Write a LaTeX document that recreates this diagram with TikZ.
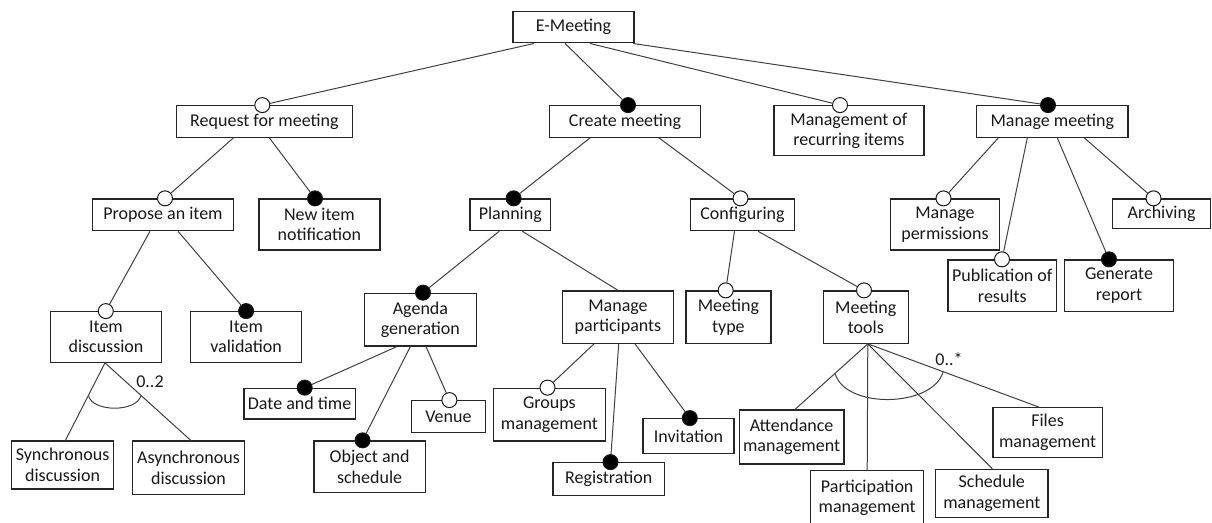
\documentclass[tikz,border=0pt]{standalone}
\usepackage{fontspec}
\setmainfont{Carlito}
\usetikzlibrary{calc}
\newcommand\diagfont{\fontsize{18}{20.5}\selectfont}
\tikzset{
  box/.style={draw=black!85, line width=1.2pt, fill=white, inner sep=0pt, align=center, font=\diagfont, text=black!90},
  optc/.style={circle, draw=black!90, line width=1pt, fill=white, minimum size=15pt, inner sep=0pt},
  mandc/.style={optc, fill=black},
  link/.style={draw=black!75, line width=1pt},
  lbl/.style={font=\diagfont, text=black!90, inner sep=0pt},
}
\begin{document}
\begin{tikzpicture}[x=1pt,y=-1pt]
\useasboundingbox (0,0) rectangle (1212,522);
\clip (0,0) rectangle (1212,522);
% boxes
\node[box,minimum width=121pt,minimum height=31.7pt] (em) at (573.5,27) {E-Meeting};
\node[box,minimum width=176pt,minimum height=31.6pt] (req) at (264.4,121.5) {Request for meeting};
\node[box,minimum width=151pt,minimum height=31.6pt] (cre) at (625,121.5) {Create meeting};
\node[box,minimum width=150pt,minimum height=50pt] (rec) at (848.9,130.7) {Management of\\recurring items};
\node[box,minimum width=151.4pt,minimum height=31.6pt] (mm) at (1052.3,121.5) {Manage meeting};
\node[box,minimum width=141pt,minimum height=31.7pt] (pro) at (163,214.8) {Propose an item};
\node[box,minimum width=121pt,minimum height=51pt] (nin) at (319.4,224.5) {New item\\notification};
\node[box,minimum width=80.6pt,minimum height=31.7pt] (pla) at (510.3,214.8) {Planning};
\node[box,minimum width=103.8pt,minimum height=31.7pt] (con) at (742.5,214.8) {Configuring};
\node[box,minimum width=108.5pt,minimum height=51pt] (mpe) at (945,224.5) {Manage\\permissions};
\node[box,minimum width=98.3pt,minimum height=29.3pt] (arch) at (1161.6,213.6) {Archiving};
\node[box,minimum width=108.7pt,minimum height=51.7pt] (pub) at (1002.3,285.8) {Publication of\\results};
\node[box,minimum width=109.3pt,minimum height=51.7pt] (gen) at (1119,285.8) {Generate\\report};
\node[box,minimum width=111pt,minimum height=50.6pt] (idi) at (106,337) {Item\\discussion};
\node[box,minimum width=111pt,minimum height=50.6pt] (iva) at (246.1,337) {Item\\validation};
\node[box,minimum width=111.7pt,minimum height=52.7pt] (age) at (420.4,319.6) {Agenda\\generation};
\node[box,minimum width=110.8pt,minimum height=52.3pt] (mpa) at (618,317.1) {Manage\\participants};
\node[box,minimum width=85pt,minimum height=52.3pt] (mty) at (728.4,317.1) {Meeting\\type};
\node[box,minimum width=85pt,minimum height=52.3pt] (mto) at (865.8,317.1) {Meeting\\tools};
\node[box,minimum width=102pt,minimum height=48pt] (syn) at (62.6,465) {Synchronous\\discussion};
\node[box,minimum width=111.7pt,minimum height=53.3pt] (asy) at (188.5,467.6) {Asynchronous\\discussion};
\node[box,minimum width=111.3pt,minimum height=30.7pt] (dat) at (299.6,403.6) {Date and time};
\node[box,minimum width=111.3pt,minimum height=51.7pt] (obj) at (369.6,466.8) {Object and\\schedule};
\node[box,minimum width=74.3pt,minimum height=32pt] (ven) at (448.4,416.7) {Venue};
\node[box,minimum width=112pt,minimum height=52.7pt] (grp) at (549.4,414.6) {Groups\\management};
\node[box,minimum width=111.4pt,minimum height=33pt] (reg) at (608.7,479.2) {Registration};
\node[box,minimum width=91pt,minimum height=34.6pt] (inv) at (688.4,436) {Invitation};
\node[box,minimum width=104.7pt,minimum height=54pt] (att) at (791.6,437) {Attendance\\management};
\node[box,minimum width=112.8pt,minimum height=54pt] (par) at (867.2,497.7) {Participation\\management};
\node[box,minimum width=112.3pt,minimum height=48.4pt] (sch) at (991.8,493.5) {Schedule\\management};
\node[box,minimum width=109.3pt,minimum height=49.6pt] (fil) at (1047.6,432.5) {Files\\management};
% circles
\node[optc]  (req-c) at ([xshift=-2.1pt]req.north) {};
\node[mandc] (cre-c) at ([xshift=3pt]cre.north) {};
\node[optc]  (rec-c) at ([xshift=-8.9pt]rec.north) {};
\node[mandc] (mm-c) at ([xshift=-4.3pt]mm.north) {};
\node[optc]  (pro-c) at ([xshift=2pt]pro.north) {};
\node[mandc] (nin-c) at ([xshift=-4.4pt]nin.north) {};
\node[mandc] (pla-c) at ([xshift=3.3pt]pla.north) {};
\node[optc]  (con-c) at ([xshift=-2pt]con.north) {};
\node[optc]  (mpe-c) at ([xshift=-1.5pt]mpe.north) {};
\node[optc]  (arch-c) at ([xshift=-8.1pt]arch.north) {};
\node[optc]  (pub-c) at ([xshift=-0.3pt]pub.north) {};
\node[mandc] (gen-c) at ([xshift=-10pt]gen.north) {};
\node[optc]  (idi-c) at ([xshift=-0.2pt]idi.north) {};
\node[mandc] (iva-c) at (iva.north) {};
\node[mandc] (age-c) at ([xshift=2.6pt]age.north) {};
\node[optc]  (mty-c) at ([xshift=-2.7pt]mty.north) {};
\node[optc]  (mto-c) at ([xshift=-1.8pt]mto.north) {};
\node[mandc] (dat-c) at ([xshift=5.1pt]dat.north) {};
\node[mandc] (obj-c) at ([xshift=-7pt]obj.north) {};
\node[optc]  (ven-c) at ([xshift=1pt]ven.north) {};
\node[optc]  (grp-c) at ([xshift=-1.9pt]grp.north) {};
\node[mandc] (reg-c) at ([xshift=1.8pt]reg.north) {};
\node[mandc] (inv-c) at ([xshift=1.4pt]inv.north) {};
% connectors
\draw[link] ([xshift=-39.5pt]em.south) -- (req-c);
\draw[link] ([xshift=-8.5pt]em.south) -- (cre-c);
\draw[link] ([xshift=16.5pt]em.south) -- (rec-c);
\draw[link] ([xshift=59.5pt]em.south) -- (mm-c);
\draw[link] ([xshift=-31pt]req.south) -- (pro-c);
\draw[link] ([xshift=5pt]req.south) -- (nin-c);
\draw[link] ([xshift=-35pt]cre.south) -- (pla-c);
\draw[link] ([xshift=34pt]cre.south) -- (con-c);
\draw[link] ([xshift=-54pt]mm.south) -- (mpe-c);
\draw[link] ([xshift=-25pt]mm.south) -- (pub-c);
\draw[link] ([xshift=5pt]mm.south) -- (gen-c);
\draw[link] ([xshift=32pt]mm.south) -- (arch-c);
\draw[link] ([xshift=-13pt]pro.south) -- (idi-c);
\draw[link] ([xshift=15pt]pro.south) -- (iva-c);
\draw[link] ([xshift=-11pt]pla.south) -- (age-c);
\draw[link] ([xshift=12pt]pla.south) -- (mpa.north);
\draw[link] ([xshift=-8pt]con.south) -- (mty-c);
\draw[link] ([xshift=15.5pt]con.south) -- (mto-c);
\draw[link] ([xshift=-23.4pt]age.south) -- (dat-c);
\draw[link] ([xshift=-10pt]age.south) -- (obj-c);
\draw[link] ([xshift=5.6pt]age.south) -- (ven-c);
\draw[link] ([xshift=-24pt]mpa.south) -- (grp-c);
\draw[link] ([xshift=0.7pt]mpa.south) -- (reg-c);
\draw[link] ([xshift=17pt]mpa.south) -- (inv-c);
% item discussion group
\coordinate (idi-b) at ([xshift=-1pt]idi.south);
\coordinate (syn-t) at ([xshift=2.8pt]syn.north);
\coordinate (asy-t) at ([xshift=2.2pt]asy.north);
\draw[link] (idi-b) -- (syn-t);
\draw[link] (idi-b) -- (asy-t);
\draw[link] ($(idi-b)!0.42!(syn-t)$) .. controls +(4,17) and +(-4,17) .. ($(idi-b)!0.42!(asy-t)$);
\node[lbl] (l02) at (150,382) {0..2};
% meeting tools group
\coordinate (mto-b) at ([xshift=2pt]mto.south);
\coordinate (att-t) at ([xshift=3.4pt]att.north);
\coordinate (par-t) at (par.north);
\coordinate (sch-t) at ([xshift=0.5pt]sch.north);
\coordinate (fil-t) at ([xshift=-8.6pt]fil.north);
\draw[link] (mto-b) -- (att-t);
\draw[link] (mto-b) -- (par-t);
\draw[link] (mto-b) -- (sch-t);
\draw[link] (mto-b) -- (fil-t);
\draw[link] ($(mto-b)!0.45!(att-t)$) .. controls +(10,36) and +(-10,36) .. ($(mto-b)!0.44!(fil-t)$);
\node[lbl] (l0s) at (949,359) {0..*};
\end{tikzpicture}
\end{document}
